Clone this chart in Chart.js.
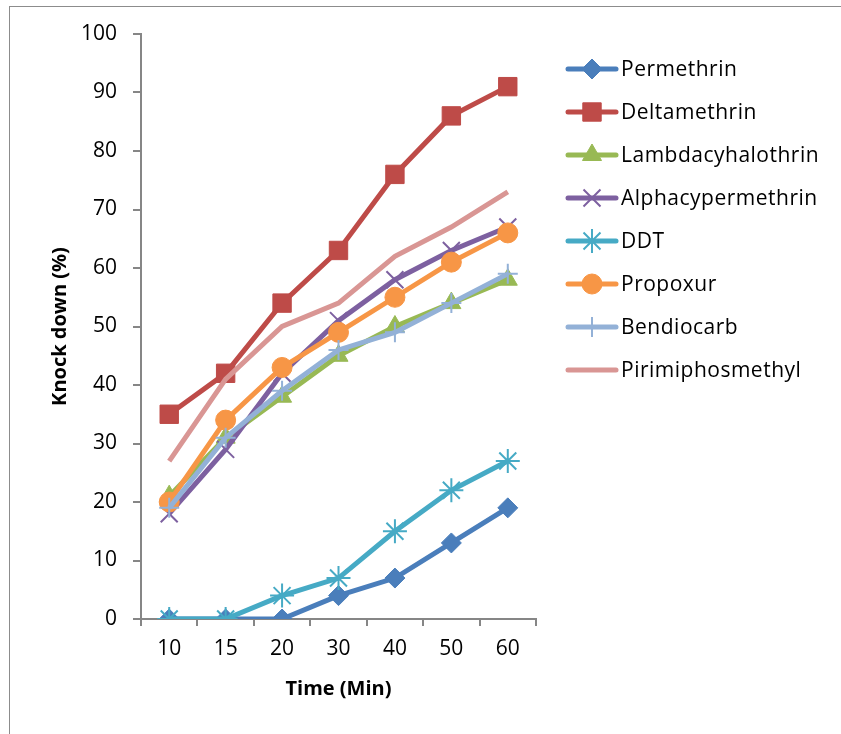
<!DOCTYPE html>
<html>
<head>
<meta charset="utf-8">
<script src="https://cdn.jsdelivr.net/npm/chart.js@4"></script>
<style>
  html, body { margin: 0; padding: 0; background: #fff; }
  #wrap { position: relative; width: 841px; height: 734px; overflow: hidden; }
  #frame { position: absolute; left: 9px; top: 6px; width: 900px; height: 800px;
           border-left: 1px solid #8c8c8c; border-top: 1px solid #8c8c8c; }
  canvas { position: absolute; left: 0; top: 0; }
</style>
</head>
<body>
<div id="wrap">
  <div id="frame"></div>
  <canvas id="chart" width="841" height="734"></canvas>
</div>
<script>
// Knock down (%) by exposure time
const timeLabels = ['10', '15', '20', '30', '40', '50', '60'];

const permethrin        = [0, 0, 0, 4, 7, 13, 19];
const deltamethrin      = [35, 42, 54, 63, 76, 86, 91];
const lambdacyhalothrin = [21, 31, 38, 45, 50, 54, 58];
const alphacypermethrin = [18, 29, 42, 51, 58, 63, 67];
const ddt               = [0, 0, 4, 7, 15, 22, 27];
const propoxur          = [20, 34, 43, 49, 55, 61, 66];
const bendiocarb        = [19, 31, 39, 46, 49, 54, 59];
const pirimiphosmethyl  = [27, 41, 50, 54, 62, 67, 73];

const seriesNames = ['Permethrin', 'Deltamethrin', 'Lambdacyhalothrin', 'Alphacypermethrin',
                     'DDT', 'Propoxur', 'Bendiocarb', 'Pirimiphosmethyl'];
const seriesData = [permethrin, deltamethrin, lambdacyhalothrin, alphacypermethrin,
                    ddt, propoxur, bendiocarb, pirimiphosmethyl];

const FONT = "'Open Sans', sans-serif";
const FSIZE = 21;

// excel 2007 style palette + marker per series
const styles = [
    { color: '#4a7ebb', marker: 'rectRot',  radius: 10,  bw: 1 },
    { color: '#be4b48', marker: 'rect',     radius: 13,  bw: 1 },
    { color: '#98b954', marker: 'triangle', radius: 11,  bw: 1 },
    { color: '#7d60a0', marker: 'crossRot', radius: 12,  bw: 2 },
    { color: '#46aac5', marker: 'star',     radius: 12,  bw: 2 },
    { color: '#f79646', marker: 'circle',   radius: 10,  bw: 1 },
    { color: '#93b1d7', marker: 'cross',    radius: 10,  bw: 2 },
    { color: '#d99694', marker: 'circle',   radius: 0,   bw: 0 }
];

const datasets = seriesData.map((d, i) => ({
    label: seriesNames[i],
    data: d,
    borderColor: styles[i].color,
    backgroundColor: styles[i].color,
    borderWidth: 5,
    pointStyle: styles[i].marker,
    pointRadius: styles[i].radius,
    pointHoverRadius: styles[i].radius,
    pointBorderWidth: styles[i].bw,
    pointBorderColor: styles[i].color,
    pointBackgroundColor: styles[i].color,
    tension: 0,
    order: seriesData.length - i   // later series drawn on top, like excel
}));

// legend with line sample + marker, drawn on the canvas
const excelLegend = {
    id: 'excelLegend',
    afterDraw(chart) {
        const ctx = chart.ctx;
        ctx.save();
        datasets.forEach((ds, i) => {
            const y = 69 + i * 43;
            ctx.strokeStyle = ds.borderColor;
            ctx.lineWidth = 5;
            ctx.lineCap = 'round';
            ctx.beginPath();
            ctx.moveTo(568, y);
            ctx.lineTo(616, y);
            ctx.stroke();
            if (ds.pointRadius > 0) {
                ctx.fillStyle = ds.pointBackgroundColor;
                ctx.strokeStyle = ds.pointBorderColor;
                ctx.lineWidth = ds.pointBorderWidth;
                ctx.lineCap = 'butt';
                Chart.helpers.drawPoint(ctx, {
                    pointStyle: ds.pointStyle,
                    radius: ds.pointRadius,
                    rotation: 0,
                    borderWidth: ds.pointBorderWidth
                }, 592, y);
            }
            ctx.fillStyle = '#000';
            ctx.font = FSIZE + 'px ' + FONT;
            ctx.letterSpacing = '0.5px';
            ctx.textAlign = 'left';
            ctx.textBaseline = 'middle';
            ctx.fillText(ds.label, 621, y + 1);
        });
        ctx.restore();
    }
};

new Chart(document.getElementById('chart'), {
    type: 'line',
    data: { labels: timeLabels, datasets: datasets },
    options: {
        responsive: false,
        animation: false,
        layout: { padding: { left: 0, top: 34, right: 305, bottom: 0 } },
        plugins: {
            legend: { display: false },
            tooltip: { enabled: false }
        },
        scales: {
            x: {
                type: 'category',
                offset: true,
                afterFit(scale) { scale.height = 115; },
                grid: { offset: true, drawOnChartArea: false, drawTicks: true, tickLength: 7,
                        color: '#868686', lineWidth: 2 },
                border: { color: '#868686', width: 2 },
                ticks: { color: '#000', font: { family: FONT, size: FSIZE }, padding: 10, maxRotation: 0 },
                title: { display: true, text: 'Time (Min)', color: '#000',
                         font: { family: FONT, size: 20, weight: 'bold' }, padding: { top: 0, bottom: 33 } }
            },
            y: {
                min: 0, max: 100,
                afterFit(scale) { scale.width = 141; },
                grid: { drawOnChartArea: false, drawTicks: true, tickLength: 8,
                        color: '#868686', lineWidth: 2 },
                border: { color: '#868686', width: 2 },
                ticks: { stepSize: 10, color: '#000', font: { family: FONT, size: FSIZE }, padding: 16 },
                title: { display: true, text: 'Knock down (%)', color: '#000',
                         font: { family: FONT, size: 20, weight: 'bold' }, padding: { top: 48, bottom: 0 } }
            }
        }
    },
    plugins: [excelLegend]
});
</script>
</body>
</html>
